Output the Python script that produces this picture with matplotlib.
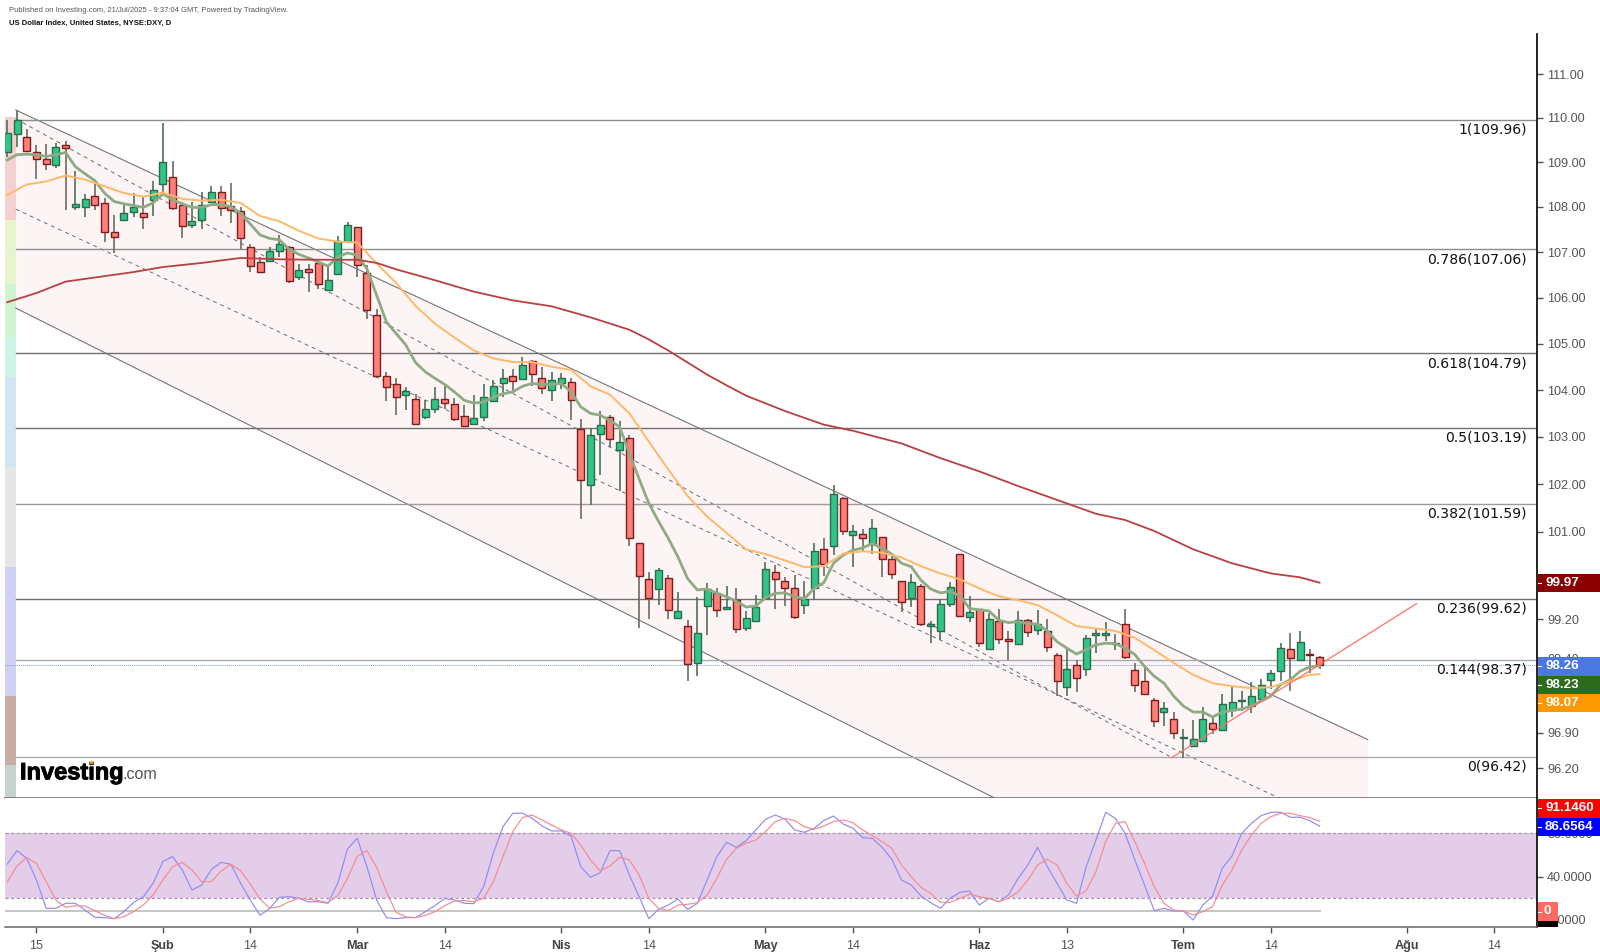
#!/usr/bin/env python3
"""US Dollar Index daily chart with fib levels, channel and stochastic RSI pane."""
import matplotlib
matplotlib.use('Agg')
import matplotlib.pyplot as plt
import matplotlib.patheffects as pe
from matplotlib.patches import Rectangle
from matplotlib.ticker import FixedLocator, NullLocator, FixedFormatter
import numpy as np

W, H = 1600, 952

# Daily candles
opens = [109.24, 109.63, 109.57, 109.23, 109.08, 108.93, 109.39, 107.99, 108.00, 108.25,
         108.09, 107.45, 107.71, 107.88, 107.86, 108.15, 108.51, 108.67, 108.04, 107.59,
         107.71, 108.10, 108.33, 108.02, 107.91, 107.11, 106.77, 106.80, 107.03, 107.11,
         106.45, 106.63, 106.75, 106.16, 106.52, 107.24, 107.55, 106.55, 105.61, 104.30,
         104.12, 103.89, 103.81, 103.43, 103.59, 103.81, 103.71, 103.44, 103.28, 103.43,
         103.77, 104.14, 104.30, 104.24, 104.63, 104.26, 104.01, 104.16, 104.18, 103.16,
         101.98, 103.06, 103.42, 102.72, 102.98, 100.77, 100.02, 99.81, 100.05, 99.22,
         99.07, 98.30, 99.48, 99.74, 99.41, 99.60, 99.03, 99.17, 99.64, 100.16,
         99.99, 99.83, 99.50, 99.84, 100.65, 100.70, 101.71, 100.94, 100.96, 100.76,
         100.89, 100.43, 99.98, 99.64, 99.89, 99.07, 98.96, 99.52, 100.54, 99.24,
         99.41, 98.59, 99.17, 98.79, 98.70, 99.19, 98.98, 98.96, 98.47, 97.82,
         98.27, 98.19, 98.87, 98.87, 98.69, 99.10, 98.17, 97.94, 97.56, 97.33,
         97.18, 96.80, 96.65, 96.74, 97.09, 96.95, 97.36, 97.54, 97.45, 97.58,
         97.96, 98.14, 98.59, 98.36, 98.49, 98.43]
highs = [109.95, 110.17, 109.76, 109.39, 109.40, 109.43, 109.48, 108.81, 108.29, 108.52,
         108.20, 107.82, 108.07, 108.31, 108.25, 108.57, 109.89, 109.03, 108.12, 108.10,
         108.34, 108.46, 108.46, 108.54, 108.00, 107.17, 106.89, 107.12, 107.38, 107.13,
         106.73, 106.73, 106.78, 106.67, 107.36, 107.67, 107.55, 106.71, 105.76, 104.39,
         104.25, 104.07, 103.92, 103.78, 104.07, 104.09, 103.82, 103.67, 103.89, 104.12,
         104.21, 104.45, 104.46, 104.70, 104.65, 104.50, 104.39, 104.37, 104.25, 103.38,
         103.18, 103.55, 103.46, 103.33, 103.03, 100.77, 100.17, 100.26, 100.10, 99.75,
         99.18, 99.66, 99.95, 99.85, 99.89, 99.84, 99.37, 99.69, 100.37, 100.31,
         100.06, 100.10, 99.99, 100.77, 100.87, 101.99, 101.74, 101.14, 101.06, 101.27,
         100.89, 100.57, 99.98, 100.13, 99.92, 99.16, 99.62, 99.97, 100.54, 99.68,
         99.41, 99.32, 99.40, 98.95, 99.37, 99.21, 99.38, 99.21, 98.52, 98.59,
         98.36, 98.88, 99.03, 99.15, 98.89, 99.41, 98.30, 98.22, 97.61, 97.52,
         97.33, 96.97, 97.16, 97.42, 97.23, 97.68, 97.85, 97.75, 97.93, 97.98,
         98.17, 98.71, 98.92, 98.95, 98.59, 98.46]
lows = [109.11, 109.35, 109.24, 108.63, 108.83, 108.87, 107.94, 107.94, 107.77, 107.94,
        107.23, 106.97, 107.71, 107.77, 107.52, 107.80, 108.33, 107.94, 107.31, 107.54,
        107.52, 108.09, 107.80, 107.65, 107.06, 106.56, 106.56, 106.78, 106.89, 106.33,
        106.39, 106.13, 106.18, 106.16, 106.52, 107.21, 106.46, 105.53, 104.29, 103.76,
        103.46, 103.57, 103.25, 103.38, 103.51, 103.59, 103.33, 103.21, 103.27, 103.34,
        103.76, 103.85, 103.94, 104.23, 104.09, 103.91, 103.76, 104.03, 103.36, 101.28,
        101.57, 102.20, 102.79, 101.86, 100.71, 99.02, 99.21, 99.50, 99.20, 99.22,
        97.95, 98.04, 98.88, 99.24, 99.40, 98.91, 98.96, 99.17, 99.64, 99.41,
        99.47, 99.20, 99.31, 99.62, 100.08, 100.52, 100.94, 100.27, 100.59, 100.54,
        100.07, 100.02, 99.35, 99.45, 99.07, 98.72, 98.77, 99.44, 99.24, 99.15,
        98.63, 98.59, 98.69, 98.37, 98.68, 98.84, 98.87, 98.54, 97.64, 97.65,
        97.72, 98.04, 98.51, 98.76, 98.57, 98.39, 97.72, 97.67, 97.02, 97.03,
        96.79, 96.41, 96.65, 96.72, 96.88, 96.93, 97.22, 97.35, 97.30, 97.57,
        97.79, 97.95, 97.75, 98.34, 98.10, 98.19]
closes = [109.65, 109.96, 109.26, 109.08, 108.95, 109.34, 109.33, 108.07, 108.18, 108.04,
          107.45, 107.34, 107.86, 108.00, 107.78, 108.38, 109.00, 107.97, 107.57, 107.68,
          108.04, 108.33, 107.97, 107.94, 107.32, 106.70, 106.57, 107.03, 107.17, 106.36,
          106.60, 106.56, 106.29, 106.39, 107.24, 107.60, 106.72, 105.74, 104.29, 104.07,
          103.84, 103.97, 103.28, 103.59, 103.81, 103.72, 103.37, 103.24, 103.41, 103.84,
          104.09, 104.26, 104.19, 104.54, 104.34, 104.04, 104.21, 104.26, 103.79, 102.09,
          103.03, 103.25, 102.96, 102.90, 100.87, 100.09, 99.64, 100.22, 99.39, 99.36,
          98.28, 98.91, 99.82, 99.39, 99.45, 99.01, 99.23, 99.45, 100.24, 100.02,
          99.83, 99.24, 99.62, 100.61, 100.33, 101.79, 101.01, 101.03, 100.87, 101.08,
          100.43, 100.12, 99.56, 99.96, 99.10, 99.10, 99.52, 99.86, 99.27, 99.34,
          98.71, 99.21, 98.79, 98.75, 99.19, 98.93, 99.10, 98.64, 97.94, 98.19,
          98.01, 98.82, 98.91, 98.91, 98.71, 98.43, 97.87, 97.68, 97.14, 97.40,
          96.89, 96.82, 96.78, 97.18, 96.97, 97.49, 97.52, 97.56, 97.65, 97.86,
          98.10, 98.61, 98.40, 98.73, 98.47, 98.26]

# Moving averages
ma_fast = [109.05, 109.17, 109.18, 109.17, 109.13, 109.17, 109.22, 108.90, 108.74, 108.59,
           108.31, 108.12, 108.07, 108.03, 107.99, 108.09, 108.29, 108.16, 108.07, 107.99,
           107.99, 108.05, 108.05, 108.01, 107.86, 107.62, 107.38, 107.30, 107.27, 107.06,
           106.95, 106.87, 106.78, 106.69, 106.89, 106.98, 106.93, 106.63, 106.05, 105.47,
           105.22, 104.97, 104.59, 104.39, 104.25, 104.12, 103.96, 103.78, 103.72, 103.74,
           103.85, 103.92, 103.96, 104.08, 104.14, 104.12, 104.12, 104.14, 103.96, 103.64,
           103.50, 103.46, 103.35, 103.21, 102.65, 102.11, 101.60, 101.22, 100.87, 100.48,
           100.03, 99.80, 99.82, 99.73, 99.66, 99.57, 99.45, 99.47, 99.64, 99.73,
           99.74, 99.66, 99.62, 99.83, 99.95, 100.35, 100.52, 100.62, 100.67, 100.76,
           100.66, 100.54, 100.35, 100.28, 100.00, 99.82, 99.74, 99.77, 99.68, 99.42,
           99.39, 99.37, 99.18, 99.13, 99.15, 99.11, 99.10, 98.96, 98.74, 98.61,
           98.49, 98.58, 98.68, 98.71, 98.70, 98.61, 98.48, 98.24, 98.04, 97.90,
           97.64, 97.44, 97.32, 97.32, 97.22, 97.32, 97.35, 97.38, 97.44, 97.54,
           97.64, 97.87, 97.97, 98.14, 98.23, 98.25]
ma_mid_idx = list(range(0, 135, 2)) + [135]
ma_mid = [108.27, 108.50, 108.57, 108.70, 108.61, 108.46, 108.31, 108.23, 108.32, 108.18,
          108.14, 108.16, 108.09, 107.80, 107.68, 107.47, 107.30, 107.23, 107.21, 106.75,
          106.32, 105.82, 105.43, 105.13, 104.85, 104.68, 104.60, 104.60, 104.50, 104.43,
          104.08, 103.90, 103.50, 102.90, 102.31, 101.75, 101.32, 100.98, 100.64, 100.54,
          100.41, 100.27, 100.29, 100.55, 100.60, 100.57, 100.47, 100.29, 100.14, 100.02,
          99.83, 99.67, 99.59, 99.49, 99.28, 99.06, 99.01, 98.96, 98.82, 98.57,
          98.31, 98.07, 97.90, 97.84, 97.80, 97.82, 97.94, 98.07, 98.08]
ma_slow_idx = [0, 3, 6, 10, 13, 16, 20, 24, 28, 32, 36, 38, 40, 44, 48, 52, 56, 60, 64, 66, 68,
               70, 72, 74, 76, 80, 84, 87, 92, 96, 100, 104, 108, 112, 115, 118, 122, 126, 130, 133, 135]
ma_slow = [105.90, 106.10, 106.35, 106.47, 106.56, 106.67, 106.76, 106.87, 106.84, 106.83, 106.83,
           106.76, 106.62, 106.38, 106.13, 105.94, 105.81, 105.57, 105.30, 105.09, 104.85,
           104.59, 104.33, 104.10, 103.88, 103.55, 103.26, 103.13, 102.86, 102.55, 102.27,
           101.96, 101.67, 101.38, 101.25, 101.02, 100.64, 100.35, 100.14, 100.06, 99.95]

# Stochastic RSI pane
stoch_k = [51.7, 64.0, 56.9, 36.9, 10.8, 10.8, 15.4, 15.4, 9.2, 2.5, 2.2, 1.2, 7.7, 16.3, 21.5, 33.9,
           53.9, 58.5, 46.2, 27.7, 32.3, 46.8, 53.2, 51.4, 33.9, 18.5, 4.3, 10.8, 20.9, 21.5, 20.0, 16.6,
           16.9, 15.4, 33.9, 65.5, 75.4, 49.2, 18.5, 2.2, 1.2, 2.2, 2.2, 7.7, 13.2, 20.0, 18.5, 15.4,
           15.1, 30.8, 61.6, 86.2, 98.5, 98.5, 93.9, 86.8, 82.2, 82.2, 77.5, 49.2, 39.4, 43.7, 64.0, 64.0,
           41.5, 21.5, 1.2, 9.8, 13.8, 19.4, 9.8, 15.4, 36.9, 58.5, 71.7, 67.1, 73.2, 83.1, 92.9, 96.9,
           93.2, 83.1, 80.9, 84.6, 91.7, 96.0, 88.6, 84.6, 76.0, 75.4, 67.1, 56.0, 36.9, 32.3, 22.1, 16.0,
           10.8, 20.0, 25.5, 26.8, 13.8, 20.0, 16.9, 23.1, 38.5, 50.8, 67.1, 49.2, 33.8, 18.5, 15.4, 49.2,
           73.8, 99.4, 93.8, 80.0, 55.4, 32.3, 8.6, 10.8, 8.3, 8.3, 0.0, 13.8, 22.1, 47.7, 59.1, 80.0,
           89.2, 96.3, 99.4, 99.4, 94.8, 94.8, 91.7, 86.66]
stoch_d = [35.1, 49.9, 57.6, 52.3, 35.4, 18.5, 11.7, 13.2, 12.9, 8.6, 4.3, 1.2, 3.1, 7.7, 13.9, 23.1,
           36.9, 49.2, 53.2, 46.2, 35.4, 35.4, 45.2, 51.4, 45.6, 33.2, 19.4, 10.8, 12.3, 16.9, 20.0, 19.1,
           17.9, 16.0, 22.5, 38.5, 58.5, 64.0, 48.6, 26.2, 7.1, 2.8, 2.2, 4.3, 7.7, 13.2, 17.6, 17.9,
           16.9, 20.0, 35.4, 58.5, 81.6, 94.5, 96.9, 92.3, 87.7, 83.1, 80.0, 69.2, 55.4, 45.2, 49.8, 57.8,
           55.4, 41.5, 20.0, 10.8, 8.6, 13.8, 14.5, 16.0, 23.1, 38.5, 56.0, 66.2, 70.8, 73.8, 81.5, 90.8,
           93.8, 91.7, 86.1, 83.7, 86.8, 90.8, 92.3, 89.8, 83.1, 77.8, 72.3, 66.2, 50.8, 40.0, 30.1, 24.6,
           16.3, 16.3, 20.0, 24.0, 21.5, 20.0, 16.9, 20.0, 26.1, 36.9, 50.8, 56.0, 50.8, 33.8, 22.1, 27.1,
           44.6, 72.3, 89.2, 90.8, 72.3, 52.3, 30.8, 15.4, 9.2, 8.3, 4.6, 7.7, 12.3, 32.3, 46.1, 64.6,
           78.5, 89.2, 95.4, 98.5, 98.5, 96.3, 94.5, 91.146]
zero_level = 8.0

# Fib levels
fib_ratios = ['1', '0.786', '0.618', '0.5', '0.382', '0.236', '0.144', '0']
fib_prices = [109.96, 107.06, 104.79, 103.19, 101.59, 99.62, 98.37, 96.42]
fib_colors = ['#8c8c8c', '#8c8c8c', '#707070', '#707070', '#9c9c9c', '#707070', '#ababab', '#ababab']
strip_levels = [110.02, 107.72, 106.30, 105.15, 104.28, 102.36, 100.27, 97.64, 96.26, 95.61]
strip_colors = ['#f5d0d0', '#e8f4d0', '#d0f3d0', '#d0f3e8', '#d0e6f3', '#e6e6e6', '#d0d0f3', '#c8aca4', '#c6d2cc']

# Channel and trend line ends (bar index, price)
chan_x = [0.87, 139.96]
chan_upper = [110.18, 96.77]
chan_lower = [105.77, 92.0]
chan_mid = [107.95, 94.80]
pitch_x = [0.87, 119.8]
pitch_y = [109.98, 96.41]
trend_x = [119.8, 145.0]
trend_y = [96.41, 99.52]
last_price = 98.26

# Axis labels
price_ticks = [111, 110, 109, 108, 107, 106, 105, 104, 103, 102, 101, 99.2, 98.4, 96.9, 96.2]
x_tick_pos = [3, 16, 25, 36, 45, 57, 66, 78, 87, 100, 109, 121, 130, 144, 153]
x_tick_labels = ['15', 'Şub', '14', 'Mar', '14', 'Nis', '14', 'May', '14', 'Haz', '13', 'Tem', '14', 'Ağu', '14']
month_labels = {'Şub', 'Mar', 'Nis', 'May', 'Haz', 'Tem', 'Ağu'}

plt.rcParams['font.family'] = ['Liberation Sans', 'DejaVu Sans']

fig = plt.figure(figsize=(W / 100, H / 100), dpi=100, facecolor='white')


def px_axes(left, top, right, bottom):
    return fig.add_axes([left / W, 1 - bottom / H, (right - left) / W, (bottom - top) / H])


ax = px_axes(5, 34, 1537.3, 798)
sub = px_axes(5, 798, 1537.3, 927.3)
xmin, xmax = (5 - 7.3) / 9.72, (1537.3 - 7.3) / 9.72
bars = np.arange(len(opens))

# Price pane
ax.set_yscale('log')
ax.set_xlim(xmin, xmax)
ax.set_ylim(95.61, 111.92)

for k in range(len(strip_colors)):
    ax.fill_between([xmin, 0.87], strip_levels[k + 1], strip_levels[k], color=strip_colors[k], lw=0, zorder=1)

ax.fill_between(chan_x, chan_lower, chan_upper, color='#fdf5f5', lw=0, zorder=1)
ax.plot(chan_x, chan_upper, color='#757575', lw=0.8, zorder=2)
ax.plot(chan_x, chan_lower, color='#757575', lw=0.8, zorder=2)
ax.plot(chan_x, chan_mid, color='#6c6c6c', lw=0.7, dashes=(4, 4), zorder=2)
ax.plot(pitch_x, pitch_y, color='#6c6c6c', lw=0.7, dashes=(4, 4), zorder=2)
ax.plot(trend_x, trend_y, color='#ff7070', lw=0.9, zorder=6)

for level, ratio, col in zip(fib_prices, fib_ratios, fib_colors):
    ax.plot([0.87, 157.2], [level, level], color=col, lw=1.0, zorder=2)
    ax.annotate(f'{ratio}({level:.2f})', xy=(156.3, level), xytext=(0, -7), textcoords='offset points',
                ha='right', va='center', fontsize=10.1, color='#111111', family='DejaVu Sans', zorder=8)
ax.axhline(last_price, color='#7f9cf0', lw=0.7, ls=(0, (1, 1)), zorder=2)

# Candles
o, h, l, c = map(np.array, (opens, highs, lows, closes))
up = c >= o
body_col = np.where(up, '#2fc587', '#ff7f78')
edge_col = np.where(up, '#2f6a4c', '#7c1c1c')
wick_col = np.where(up, '#50705c', '#6e6a62')
ax.vlines(bars, l, h, colors=wick_col, lw=1.2, zorder=3)
ax.bar(bars, np.maximum(np.abs(c - o), 0.02), bottom=np.minimum(o, c), width=0.72,
       color=body_col, edgecolor=edge_col, linewidth=1.0, zorder=4)

# Moving averages
ax.plot(bars, ma_fast, color='#8fab82', lw=2.0, zorder=5)
ax.plot(ma_mid_idx, ma_mid, color='#ffb968', lw=1.4, zorder=5)
ax.plot(ma_slow_idx, ma_slow, color='#b84040', lw=1.3, zorder=5)

ax.yaxis.tick_right()
ax.yaxis.set_major_locator(FixedLocator(price_ticks))
ax.yaxis.set_major_formatter(FixedFormatter([f'{t:.2f}' for t in price_ticks]))
ax.yaxis.set_minor_locator(NullLocator())
ax.xaxis.set_major_locator(NullLocator())
ax.xaxis.set_minor_locator(NullLocator())
ax.tick_params(axis='y', which='major', length=4, width=1, color='#555555', labelcolor='#555555',
               labelsize=9.1, pad=3)
for side in ('left', 'top'):
    ax.spines[side].set_visible(False)
ax.spines['right'].set_color('black')
ax.spines['right'].set_linewidth(1.2)
ax.spines['bottom'].set_color('#666666')
ax.spines['bottom'].set_linewidth(1.1)

# Stochastic pane
sub.set_xlim(xmin, xmax)
sub.set_ylim(-6.74, 112.6)
sub.axhspan(20, 80, color='#e4cde8', lw=0, zorder=1)
for level in (20, 80):
    sub.axhline(level, color='#a593a8', lw=0.9, dashes=(2.5, 2), zorder=2)
sub.plot([xmin, 135], [zero_level, zero_level], color='#c4bfbb', lw=1.3, zorder=2)
sub.plot(bars, stoch_k, color='#8f8bf5', lw=0.85, zorder=3)
sub.plot(bars, stoch_d, color='#f58a90', lw=0.85, zorder=4)

sub.yaxis.tick_right()
sub.yaxis.set_major_locator(FixedLocator([0, 40, 80]))
sub.yaxis.set_major_formatter(FixedFormatter(['0.0000', '40.0000', '80.0000']))
sub.tick_params(axis='y', length=4, width=1, color='#555555', labelcolor='#555555', labelsize=9.1, pad=3)
sub.set_xticks(x_tick_pos)
sub.set_xticklabels(x_tick_labels)
sub.tick_params(axis='x', length=4, width=1, color='#555555', labelcolor='#555555', labelsize=9.1, pad=5)
for tick, name in zip(sub.get_xticklabels(), x_tick_labels):
    if name in month_labels:
        tick.set_fontweight('bold')
        tick.set_color('#444444')
for side in ('left', 'top'):
    sub.spines[side].set_visible(False)
sub.spines['right'].set_color('black')
sub.spines['right'].set_linewidth(1.2)
sub.spines['bottom'].set_color('#666666')
sub.spines['bottom'].set_linewidth(1.1)


# Price badges on the axis
def badge(label, top, bottom, color, left=1537.6, right=1600, text_x=1545):
    fig.patches.append(Rectangle((left / W, 1 - bottom / H), (right - left) / W, (bottom - top) / H,
                                 transform=fig.transFigure, facecolor=color, edgecolor='none', zorder=10))
    mid = (top + bottom) / 2
    fig.add_artist(plt.Line2D([left / W, (left + 3.5) / W], [1 - mid / H, 1 - mid / H], color='white', lw=0.8, zorder=11))
    fig.text(text_x / W, 1 - mid / H, label, color='white', fontsize=9.6, fontweight='bold',
             ha='left', va='center', zorder=12)


badge('99.97', 574, 591.7, '#8b0000')
badge('98.26', 657, 675.7, '#4a78e0')
badge('98.23', 675.7, 694, '#2c6a1c')
badge('98.07', 694, 712, '#ff9800')
badge('91.1460', 799, 817.7, '#ff0000')
badge('86.6564', 817.7, 836, '#0000ff')
badge('0', 902, 921, '#ff6a60', right=1558, text_x=1544)
fig.patches.append(Rectangle((1537.6 / W, 1 - 927.3 / H), 20.4 / W, 6.3 / H, transform=fig.transFigure,
                             facecolor='black', edgecolor='none', zorder=10))

# Header and logo
fig.text(9 / W, 1 - 10 / H, 'Published on Investing.com, 21/Jul/2025 - 9:37:04 GMT, Powered by TradingView.',
         fontsize=5.5, color='#555555', ha='left', va='center')
fig.text(9 / W, 1 - 23.5 / H, 'US Dollar Index, United States, NYSE:DXY, D',
         fontsize=5.5, color='#111111', fontweight='bold', ha='left', va='center')
logo = fig.text(20 / W, 1 - 779.3 / H, 'Investing', fontsize=17, fontweight='bold', color='black', ha='left',
                va='baseline', zorder=9)
logo.set_path_effects([pe.withStroke(linewidth=0.7, foreground='black')])
fig.text(123 / W, 1 - 779.3 / H, '.com', fontsize=11.6, color='#555555', ha='left', va='baseline', zorder=9)
fig.add_artist(plt.Line2D([91 / W], [1 - 761.5 / H], marker='o', ms=2.6, color='#f5a623', mec='none', zorder=10))

fig.savefig('out.png', dpi=100, facecolor='white')
